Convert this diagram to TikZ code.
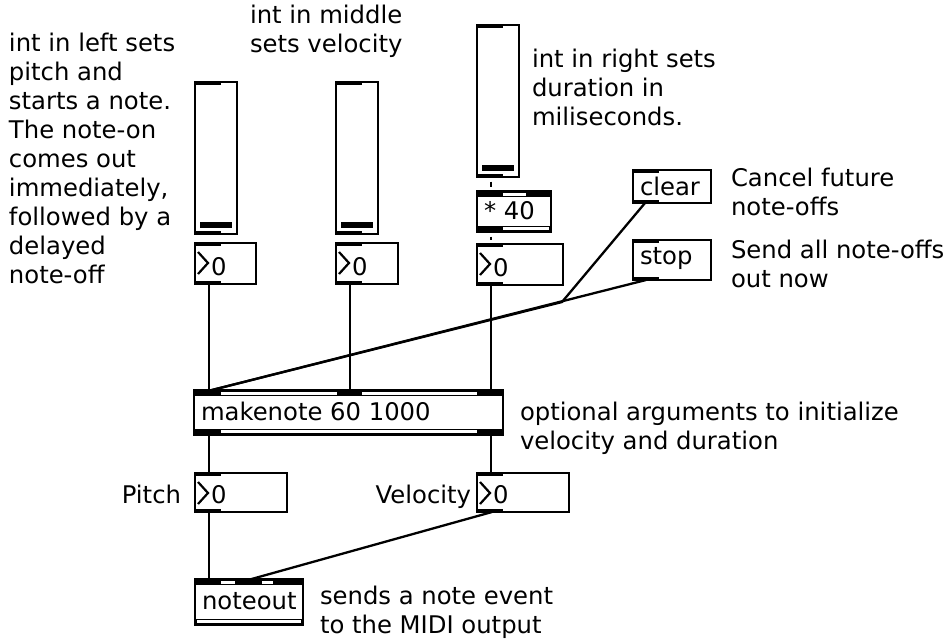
\documentclass[tikz,border=0pt]{standalone}
\usepackage{fontspec}
\setmainfont{DejaVu Sans}
\begin{document}
\begin{tikzpicture}[x=1pt,y=-1pt,
  lbl/.style={font=\fontsize{24.3}{29}\selectfont, inner sep=0pt, outer sep=0pt, align=left},
  frame/.style={draw, line width=2.4pt, fill=white, inner sep=0pt, outer sep=0pt, rectangle, anchor=north west},
  cord/.style={line width=2.3pt},
  dotcord/.style={line width=2.6pt, shorten <=4.5pt, shorten >=4.5pt},
]
\useasboundingbox (0,0) rectangle (945,643);

% ---------- helpers ----------
% box node from its corners: name, x0, y0, x1, y1
\newcommand\boxnode[5]{\node[frame, minimum width=#4-#2, minimum height=#5-#3] (#1) at (#2,#3) {};}
% thick inlet bar at the top left and outlet bar at the bottom left
\newcommand\inlet[3]{\fill (#1-1,#2-1) rectangle (#1+26,#2+3);}
\newcommand\outlet[3]{\fill (#1-1,#3-3) rectangle (#1+26,#3+1);}
% black band along the top / bottom edge of an object box
\newcommand\topband[3]{\fill (#1-1,#2-1) rectangle (#3+1,#2+6);}
\newcommand\botband[3]{\fill (#1-1,#2-6) rectangle (#3+1,#2+1);}
\newcommand\gapline[3]{\draw[white, line width=2.2pt] (#1,#3) -- (#2,#3);}
% number box arrow
\newcommand\numarrow[2]{\draw[line width=2.2pt, line join=miter] (#1+3,#2+9) -- (#1+13,#2+20) -- (#1+3,#2+31);}

% ---------- sliders ----------
\boxnode{s1}{195}{82}{237}{234}
\boxnode{s2}{336}{82}{378}{234}
\boxnode{s3}{477}{25}{519}{177}
\foreach \x/\ya/\yb in {195/82/234, 336/82/234, 477/25/177}{
  \inlet{\x}{\ya}{\yb}
  \outlet{\x}{\ya}{\yb}
  \fill (\x+5,\yb-12) rectangle (\x+37,\yb-6);
}

% ---------- number boxes ----------
\boxnode{n1}{195}{243}{256}{284}
\boxnode{n2}{336}{243}{398}{284}
\boxnode{n3}{477}{244}{563}{285}
\boxnode{np}{195}{473}{287}{512}
\boxnode{nv}{477}{473}{569}{512}
\foreach \x/\ya/\yb in {195/243/284, 336/243/284, 477/244/285, 195/473/512, 477/473/512}{
  \inlet{\x}{\ya}{\yb}
  \outlet{\x}{\ya}{\yb}
  \numarrow{\x}{\ya}
}
\node[lbl, anchor=base west] (n1t) at (211,275) {0};
\node[lbl, anchor=base west] (n2t) at (352,275) {0};
\node[lbl, anchor=base west] (n3t) at (493,276) {0};
\node[lbl, anchor=base west] (npt) at (211,503) {0};
\node[lbl, anchor=base west] (nvt) at (493,503) {0};

% ---------- object boxes ----------
\boxnode{mult}{477}{191}{551}{232}
\topband{477}{191}{551}\botband{477}{232}{551}
\gapline{503}{526}{194.5}\gapline{503}{549}{228.5}
\node[lbl, anchor=base west] (multt) at (484,219) {* 40};

\boxnode{mk}{194}{390}{503}{435}
\topband{194}{390}{503}\botband{194}{435}{503}
\gapline{221}{337}{393.5}\gapline{362}{477}{393.5}\gapline{221}{477}{431.5}
\node[lbl, anchor=base west] (mkt) at (201,420) {makenote 60 1000};

\boxnode{no}{195}{579}{303}{625}
\topband{195}{579}{303}\botband{195}{625}{303}
\gapline{221}{235}{582.5}\gapline{262}{273}{582.5}\gapline{197}{301}{621.5}
\node[lbl, anchor=base west] (not) at (202,609) {noteout};

% ---------- message boxes ----------
\boxnode{clr}{633}{170}{711}{203}
\inlet{633}{170}{203}\outlet{633}{170}{203}
\node[lbl, anchor=base west] (clrt) at (640,195) {clear};
\boxnode{stp}{633}{240}{711}{280}
\inlet{633}{240}{280}\outlet{633}{240}{280}
\node[lbl, anchor=base west] (stpt) at (640,264) {stop};

% ---------- patch cords ----------
\draw[dotcord] ([xshift=14pt]s1.south west) -- ([xshift=14pt]n1.north west);
\draw[dotcord] ([xshift=14pt]s2.south west) -- ([xshift=14pt]n2.north west);
\draw[dotcord] ([xshift=14pt]s3.south west) -- ([xshift=14pt]mult.north west);
\draw[dotcord] ([xshift=14pt]mult.south west) -- ([xshift=14pt]n3.north west);
\draw[cord] ([xshift=14pt]n1.south west) -- ([xshift=15pt]mk.north west);
\draw[cord] ([xshift=14pt]n2.south west) -- ([xshift=156pt]mk.north west);
\draw[cord] ([xshift=14pt]n3.south west) -- ([xshift=297pt]mk.north west);
\coordinate (cj) at (562,302);
\draw[cord] ([xshift=12pt]clr.south west) -- (cj) -- ([xshift=14pt,yshift=-1pt]mk.north west);
\draw[cord] ([xshift=13pt]stp.south west) -- ([xshift=14pt,yshift=-1pt]mk.north west);
\draw[cord] ([xshift=15pt]mk.south west) -- ([xshift=14pt]np.north west);
\draw[cord] ([xshift=297pt]mk.south west) -- ([xshift=14pt]nv.north west);
\draw[cord] ([xshift=14pt]np.south west) -- ([xshift=14pt]no.north west);
\draw[cord] ([xshift=15pt]nv.south west) -- ([xshift=53pt,yshift=-1pt]no.north west);

% ---------- comments (anchored at the baseline of their last line) ----------
\node[lbl, anchor=base west] (cleft) at (9,283) {int in left sets\\pitch and\\starts a note.\\The note-on\\comes out\\immediately,\\followed by a\\delayed\\note-off};
\node[lbl, anchor=base west] (cmid) at (250,52) {int in middle\\sets velocity};
\node[lbl, anchor=base west] (cright) at (532,125) {int in right sets\\duration in\\miliseconds.};
\node[lbl, anchor=base west] (cclr) at (731,215) {Cancel future\\note-offs};
\node[lbl, anchor=base west] (cstp) at (731,287) {Send all note-offs\\out now};
\node[lbl, anchor=base west] (cmk) at (520,449) {optional arguments to initialize\\velocity and duration};
\node[lbl, anchor=base east] (cpitch) at (181,503) {Pitch};
\node[lbl, anchor=base east] (cvel) at (471,503) {Velocity};
\node[lbl, anchor=base west] (cno) at (320,633) {sends a note event\\to the MIDI output};
\end{tikzpicture}
\end{document}
